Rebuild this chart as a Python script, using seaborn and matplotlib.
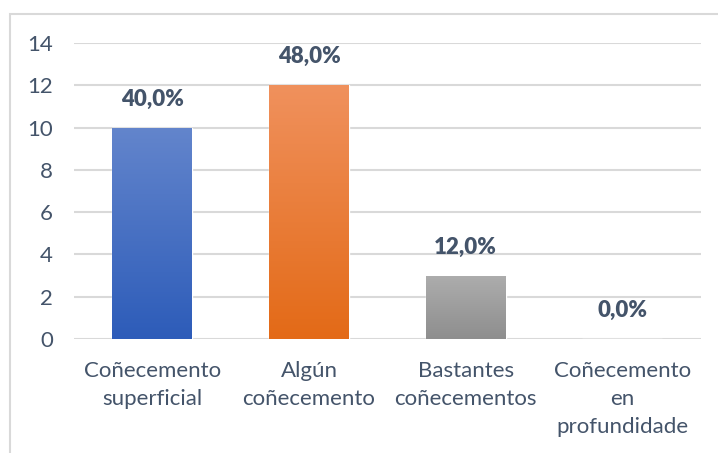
import numpy as np
import pandas as pd
import matplotlib
matplotlib.use("Agg")
import matplotlib.pyplot as plt
from matplotlib.colors import LinearSegmentedColormap
from matplotlib.patches import Rectangle
import seaborn as sns

# Datos
categorias = ["Coñecemento\nsuperficial", "Algún\ncoñecemento",
              "Bastantes\ncoñecementos", "Coñecemento\nen\nprofundidade"]
valores = [10, 12, 3, 0]
etiquetas = ["40,0%", "48,0%", "12,0%", "0,0%"]
cores_arriba = ["#6385CC", "#F0915D", "#ADADAD"]
cores_abaixo = ["#2D5CB9", "#E36A17", "#8E8E8E"]
ticks_y = [0, 2, 4, 6, 8, 10, 12, 14]

sns.set_theme(style="white")
plt.rcParams["font.family"] = ["Lato", "DejaVu Sans"]
cor_texto = "#44546A"

df = pd.DataFrame({"categoria": categorias, "valor": valores})

fig = plt.figure(figsize=(7.18, 4.53), dpi=100)
ax = fig.add_axes([0.103, 0.2517, 0.873, 0.6534])

sns.barplot(data=df, x="categoria", y="valor", hue="categoria",
            palette=cores_abaixo + ["#FFFFFF"], legend=False,
            width=0.51, ax=ax, zorder=2)

# degradado vertical en cada barra
for i, barra in enumerate(ax.patches[:3]):
    x0, y0 = barra.get_x(), barra.get_y()
    w, h = barra.get_width(), barra.get_height()
    cmap = LinearSegmentedColormap.from_list("g", [cores_abaixo[i], cores_arriba[i]])
    grad = np.linspace(0, 1, 256).reshape(-1, 1)
    im = ax.imshow(grad, cmap=cmap, origin="lower", aspect="auto",
                   extent=[x0, x0 + w, y0, y0 + h], zorder=3)
    im.set_clip_path(barra)

ax.set_xlim(-0.5, 3.5)
ax.set_ylim(0, 14)
ax.set_yticks(ticks_y)
ax.yaxis.grid(True, color="#D9D9D9", linewidth=1.5, zorder=0)
ax.set_axisbelow(True)
sns.despine(ax=ax, left=True, bottom=True)
ax.set_xlabel("")
ax.set_ylabel("")
ax.tick_params(axis="y", length=0, pad=15, labelsize=16, labelcolor=cor_texto)
ax.tick_params(axis="x", length=0, pad=16, labelsize=16, labelcolor=cor_texto)
for t in ax.get_xticklabels():
    t.set_linespacing(1.5)

for i, (v, txt) in enumerate(zip(valores, etiquetas)):
    ax.annotate(txt, (i, v), xytext=(0, 13), textcoords="offset points",
                ha="center", va="bottom", fontsize=16, fontweight="heavy",
                color=cor_texto)

# marco do gráfico
fig.patches.append(Rectangle((10 / 718, -0.1), 1.2, (453 - 14) / 453 + 0.1,
                             transform=fig.transFigure, fill=False,
                             edgecolor="#D9D9D9", linewidth=1.5))

fig.savefig("out.png", dpi=100)
